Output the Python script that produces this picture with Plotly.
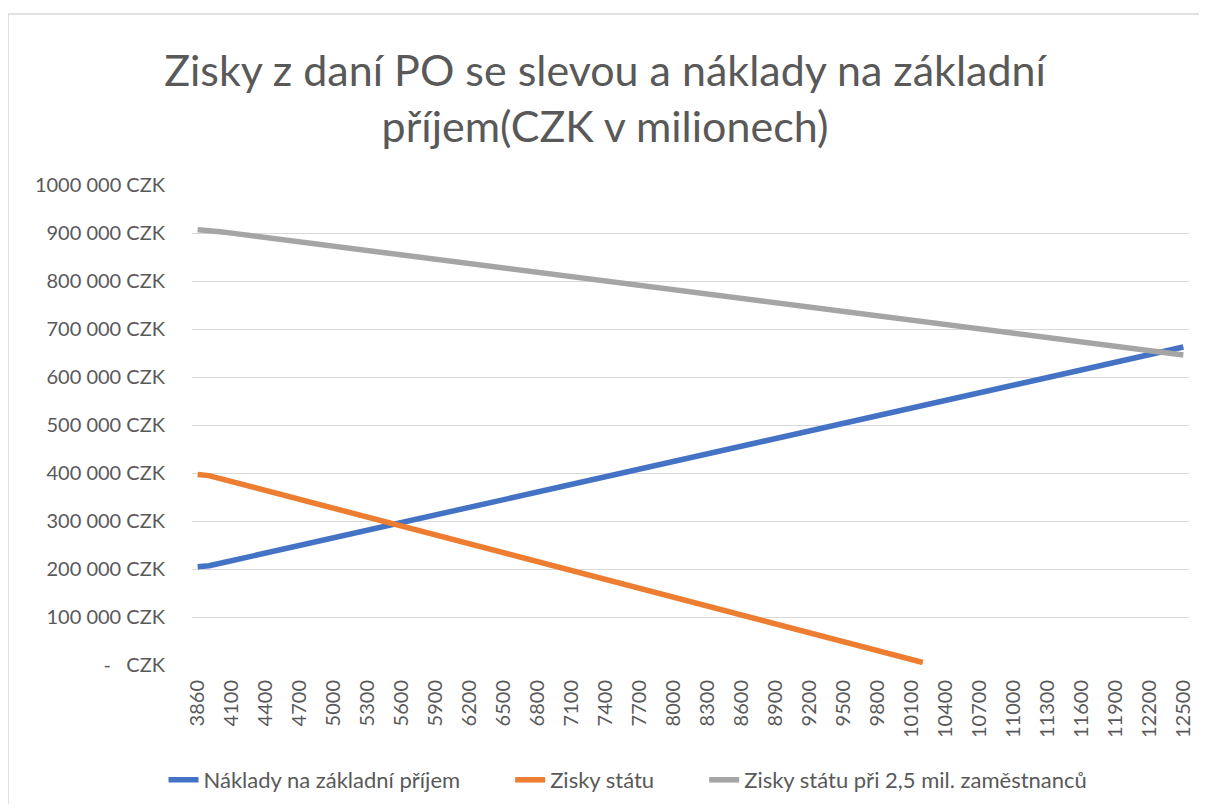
import plotly.graph_objects as go

categories = ["3860"] + [str(v) for v in range(3900, 12600, 100)]

naklady = [
    204600, 206700, 212000, 217300, 222600, 227900, 233200, 238500, 243800, 249100,
    254400, 259700, 265000, 270300, 275600, 280900, 286200, 291500, 296800, 302100,
    307400, 312700, 318000, 323300, 328600, 333900, 339200, 344500, 349800, 355100,
    360400, 365700, 371000, 376300, 381600, 386900, 392200, 397500, 402800, 408100,
    413400, 418700, 424000, 429300, 434600, 439900, 445200, 450500, 455800, 461100,
    466400, 471700, 477000, 482300, 487600, 492900, 498200, 503500, 508800, 514100,
    519400, 524700, 530000, 535300, 540600, 545900, 551200, 556500, 561800, 567100,
    572400, 577700, 583000, 588300, 593600, 598900, 604200, 609500, 614800, 620100,
    625400, 630700, 636000, 641300, 646600, 651900, 657200, 662500,
]

zisky_statu = [
    397000, 394600, 388400, 382200, 376000, 369900, 363700, 357500, 351300, 345100,
    338900, 332800, 326600, 320400, 314200, 308000, 301900, 295700, 289500, 283300,
    277200, 271000, 264800, 258600, 252400, 246300, 240100, 233900, 227700, 221500,
    215400, 209200, 203000, 196800, 190600, 184500, 178300, 172100, 165900, 159700,
    153600, 147400, 141200, 135000, 128800, 122700, 116500, 110300, 104100, 97900,
    91800, 85600, 79400, 73200, 67000, 60900, 54700, 48500, 42300, 36100,
    30000, 23800, 17600, 11400, 5200,
]

zisky_25 = [
    907000, 905800, 902800, 899700, 896700, 893700, 890700, 887600, 884600, 881600,
    878600, 875600, 872600, 869500, 866500, 863500, 860500, 857500, 854400, 851400,
    848400, 845400, 842300, 839300, 836300, 833300, 830300, 827200, 824200, 821200,
    818200, 815200, 812100, 809100, 806100, 803100, 800000, 797000, 794000, 791000,
    788000, 784900, 781900, 778900, 775900, 772900, 769800, 766800, 763800, 760800,
    757700, 754700, 751700, 748700, 745700, 742600, 739600, 736600, 733600, 730600,
    727500, 724500, 721500, 718500, 715400, 712400, 709400, 706400, 703400, 700300,
    697300, 694300, 691300, 688200, 685200, 682200, 679200, 676200, 673100, 670100,
    667100, 664100, 661100, 658000, 655000, 652000, 649000, 646000,
]

y_tickvals = [0, 100000, 200000, 300000, 400000, 500000, 600000, 700000, 800000, 900000, 1000000]
y_ticktext = ["-   CZK", "100 000 CZK", "200 000 CZK", "300 000 CZK", "400 000 CZK",
              "500 000 CZK", "600 000 CZK", "700 000 CZK", "800 000 CZK", "900 000 CZK",
              "1000 000 CZK"]

legend_names = ["Náklady na základní příjem", "Zisky státu", "Zisky státu při 2,5 mil. zaměstnanců"]

FONT = "Lato"
TXT = "#595959"
PAD = "\u00a0" * 8

fig = go.Figure()
fig.add_trace(go.Scatter(x=categories, y=naklady, mode="lines",
                         name=legend_names[0] + PAD,
                         line=dict(color="#4472C4", width=5.5)))
fig.add_trace(go.Scatter(x=categories[:len(zisky_statu)], y=zisky_statu, mode="lines",
                         name=legend_names[1] + PAD,
                         line=dict(color="#ED7D31", width=5.5)))
fig.add_trace(go.Scatter(x=categories, y=zisky_25, mode="lines",
                         name=legend_names[2],
                         line=dict(color="#A5A5A5", width=5.5)))

# page has an 8px body margin: work in reference coords minus 8
OFF = 8
W, H = 1199, 796
L, R = 192 - OFF, W - (1189 - OFF)
T, B = 185 - OFF, H - (665 - OFF)
pw, ph = W - L - R, H - T - B

def px(x):
    return (x - OFF - L) / pw

def py(y):
    return (H - B - (y - OFF)) / ph

border = dict(color="#D9D9D9", width=1.5)

fig.update_layout(
    width=W, height=H,
    margin=dict(l=L, r=R, t=T, b=B, pad=0, autoexpand=False),
    paper_bgcolor="white", plot_bgcolor="white",
    font=dict(family=FONT, color=TXT, size=20),
    title=dict(text="Zisky z daní PO se slevou a náklady na základní<br>příjem(CZK v milionech)",
               x=(605 - OFF) / W, xanchor="center", y=1 - (86 - OFF) / H, yanchor="middle",
               font=dict(family=FONT, size=43, color=TXT)),
    showlegend=True,
    legend=dict(orientation="h", xref="container", yref="container",
                x=(628 - OFF) / W, xanchor="center", y=1 - (780 - OFF) / H, yanchor="middle",
                font=dict(family=FONT, size=22, color=TXT), bgcolor="rgba(0,0,0,0)"),
    xaxis=dict(type="category", categoryorder="array", categoryarray=categories,
               range=[-0.5, len(categories) - 0.5],
               tickmode="array", tickvals=categories[::3], ticktext=categories[::3],
               tickangle=-90, showgrid=False, zeroline=False, showline=False,
               ticks="", ticklabelstandoff=10, automargin=False,
               tickfont=dict(family=FONT, size=20, color=TXT)),
    yaxis=dict(range=[0, 1000000], tickmode="array", tickvals=y_tickvals, ticktext=y_ticktext,
               showgrid=True, gridcolor="#D9D9D9", gridwidth=1, zeroline=False,
               showline=False, ticks="", ticklabelstandoff=26, automargin=False,
               tickfont=dict(family=FONT, size=20, color=TXT)),
    shapes=[
        dict(type="line", xref="paper", yref="paper",
             x0=px(8), x1=px(8), y0=py(830), y1=py(14), line=border, layer="below"),
        dict(type="line", xref="paper", yref="paper",
             x0=px(8), x1=px(1215), y0=py(14), y1=py(14), line=border, layer="below"),
    ],
)

fig.write_html("out.html")
